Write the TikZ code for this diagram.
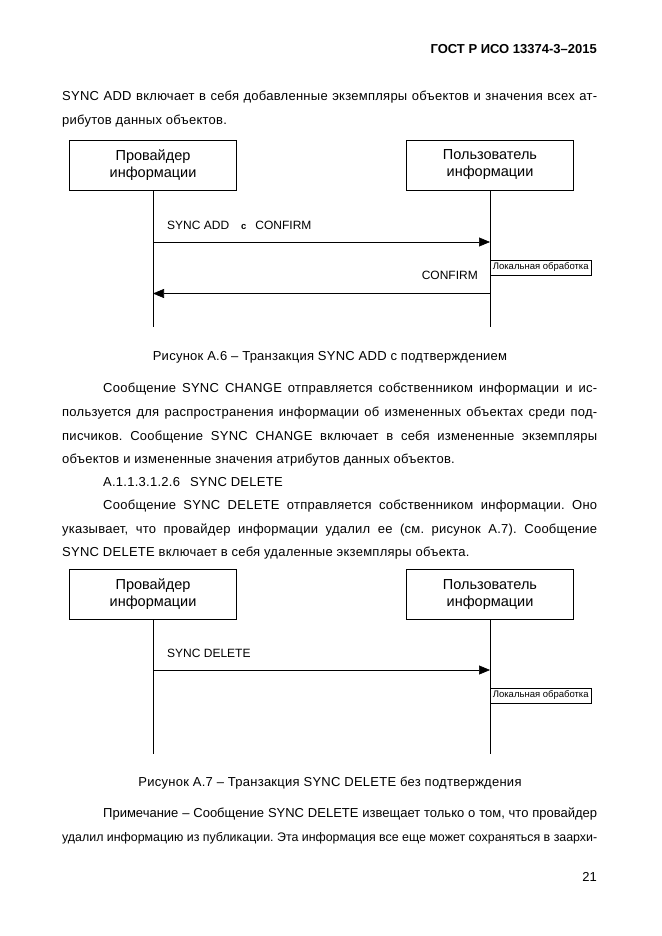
\documentclass[tikz,border=0pt]{standalone}
\usepackage{fontspec}
\setmainfont{Liberation Sans}
\newfontfamily\bodyf[LetterSpace=2]{Liberation Sans}
\newfontfamily\bodyn[LetterSpace=0]{Liberation Sans}
\usetikzlibrary{arrows.meta}
\begin{document}
\frenchspacing
\begin{tikzpicture}[x=1pt,y=-1pt,
  txt/.style={anchor=base west, inner sep=0pt, font=\bodyf\fontsize{13}{15}\selectfont},
  ctxt/.style={anchor=base, inner sep=0pt, font=\bodyf\fontsize{13}{15}\selectfont},
  actor/.style={draw, line width=0.6pt, minimum width=167pt, minimum height=50pt, align=center, font=\fontsize{14.5}{17}\selectfont, inner sep=0pt},
  life/.style={line width=0.6pt},
  msg/.style={line width=0.6pt, -{Triangle[length=11pt,width=9pt]}},
  lbl/.style={anchor=base west, inner sep=0pt, font=\fontsize{12}{14}\selectfont},
  localbox/.style={draw, line width=0.5pt, anchor=north west, inner sep=1pt, font=\fontsize{9.5}{10}\selectfont, minimum height=15pt, minimum width=101pt}]
\useasboundingbox (0,0) rectangle (661,936);
\fill[white] (0,0) rectangle (661,936);

\node[anchor=base east, inner sep=0pt, font=\bfseries\fontsize{13}{15}\selectfont] (hdr) at (597,54) {ГОСТ Р ИСО 13374-3–2015};

\node[txt] (p1a) at (62,100.5) {\makebox[535pt][s]{SYNC ADD включает в себя добавленные экземпляры объектов и значения всех ат-}};
\node[txt] (p1b) at (62,124.5) {рибутов данных объектов.};

% Diagram A.6
\node[actor] (prov1) at (153,165) {Провайдер\\информации};
\node[actor] (user1) at (490,165) {Пользователь\\информации};
\coordinate (pe1) at (153,327);
\coordinate (ue1) at (490,327);
\draw[life] (prov1.south) -- (pe1);
\draw[life] (user1.south) -- (ue1);
\coordinate (m1s) at (153,242);
\coordinate (m1e) at (490,242);
\draw[msg] (m1s) -- (m1e);
\node[lbl] (l1) at (167,229.5) {SYNC ADD\hspace{12pt}{\bfseries\fontsize{9.5}{10}\selectfont с}\hspace{9pt}CONFIRM};
\node[localbox] (loc1) at (490,259.5) {Локальная обработка};
\coordinate (m2s) at (490,293.5);
\coordinate (m2e) at (153,293.5);
\draw[msg] (m2s) -- (m2e);
\node[lbl, anchor=base east] (l2) at (478,279.5) {CONFIRM};

\node[ctxt] (cap1) at (330,360.5) {Рисунок А.6 – Транзакция SYNC ADD с подтверждением};

\node[txt] (p2a) at (103,392.5) {\makebox[494pt][s]{Сообщение SYNC CHANGE отправляется собственником информации и ис-}};
\node[txt] (p2b) at (62,416.5) {\makebox[535pt][s]{пользуется для распространения информации об измененных объектах среди под-}};
\node[txt] (p2c) at (62,440.5) {\makebox[535pt][s]{писчиков. Сообщение SYNC CHANGE включает в себя измененные экземпляры}};
\node[txt] (p2d) at (62,463.5) {объектов и измененные значения атрибутов данных объектов.};
\node[txt] (sec) at (103,486.5) {А.1.1.3.1.2.6\hspace{10pt}SYNC DELETE};
\node[txt] (p3a) at (103,509.5) {\makebox[494pt][s]{Сообщение SYNC DELETE отправляется собственником информации. Оно}};
\node[txt] (p3b) at (62,533.5) {\makebox[535pt][s]{указывает, что провайдер информации удалил ее (см. рисунок А.7). Сообщение}};
\node[txt] (p3c) at (62,556.5) {SYNC DELETE включает в себя удаленные экземпляры объекта.};

% Diagram A.7
\node[actor] (prov2) at (153,594.5) {Провайдер\\информации};
\node[actor] (user2) at (490,594.5) {Пользователь\\информации};
\coordinate (pe2) at (153,754);
\coordinate (ue2) at (490,754);
\draw[life] (prov2.south) -- (pe2);
\draw[life] (user2.south) -- (ue2);
\coordinate (m3s) at (153,670);
\coordinate (m3e) at (490,670);
\draw[msg] (m3s) -- (m3e);
\node[lbl] (l3) at (167,657.5) {SYNC DELETE};
\node[localbox] (loc2) at (490,687.5) {Локальная обработка};

\node[ctxt] (cap2) at (330,786.5) {Рисунок А.7 – Транзакция SYNC DELETE без подтверждения};

\node[txt, font=\bodyn\fontsize{13}{15}\selectfont] (p4a) at (103,817.5) {\makebox[494pt][s]{Примечание – Сообщение SYNC DELETE извещает только о том, что провайдер}};
\node[txt, font=\bodyn\fontsize{12.4}{15}\selectfont] (p4b) at (62,841.5) {\makebox[535pt][s]{удалил информацию из публикации. Эта информация все еще может сохраняться в заархи-}};

\node[anchor=base east, inner sep=0pt, font=\fontsize{13}{15}\selectfont] (pg) at (597,881.5) {21};
\end{tikzpicture}
\end{document}
